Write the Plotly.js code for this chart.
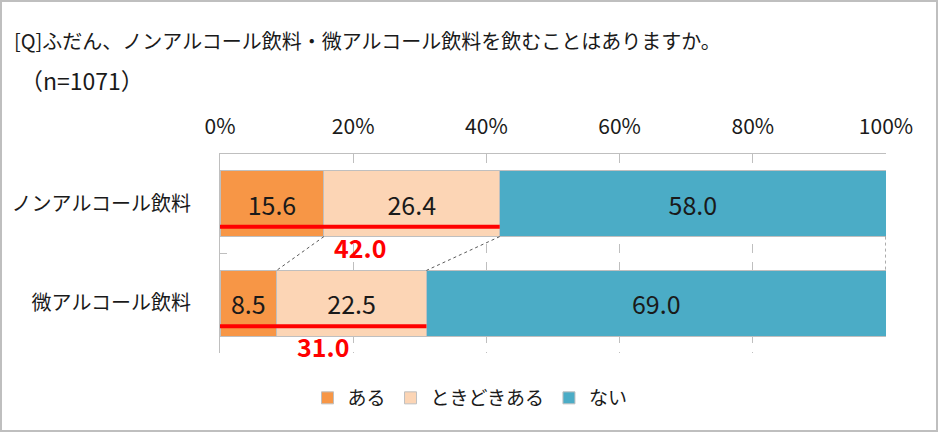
<!DOCTYPE html>
<html>
<head>
<meta charset="utf-8">
<script src="https://cdn.plot.ly/plotly-3.0.1.min.js"></script>
<style>
html,body{margin:0;padding:0;background:#fff;}
#wrap{position:relative;width:940px;height:433px;}
#chart{width:940px;height:433px;}
#frame{position:absolute;left:0;top:0;width:934px;height:428px;border:2px solid #bfbfbf;pointer-events:none;}
</style>
</head>
<body>
<div id="wrap"><div id="chart"></div><div id="frame"></div></div>
<script>
const categories = ['ノンアルコール飲料', '微アルコール飲料'];
const seriesNames = ['ある', 'ときどきある', 'ない'];
const aru = [15.6, 8.5];
const tokidoki = [26.4, 22.5];
const nai = [58.0, 69.0];
const totals = [42.0, 31.0];
const tickVals = [0, 20, 40, 60, 80, 100];
const tickText = ['0%', '20%', '40%', '60%', '80%', '100%'];
const colors = ['#F79646', '#FCD5B5', '#4BACC6'];

const FONT = '"Noto Sans CJK JP", "Noto Sans", sans-serif';
const seriesVals = [aru, tokidoki, nai];
const BARW = 0.66;

const traces = seriesVals.map((vals, k) => ({
  type: 'bar',
  orientation: 'h',
  name: seriesNames[k],
  y: categories,
  x: vals,
  width: BARW,
  marker: {color: colors[k], line: {color: '#bfbfbf', width: 1}},
  text: vals.map(v => v.toFixed(1)),
  textposition: 'inside',
  insidetextanchor: 'middle',
  textangle: 0,
  constraintext: 'none',
  textfont: {family: FONT, size: 25, color: '#1a1a1a'},
  hoverinfo: 'skip'
}));

// cumulative boundaries for connectors
const cum = categories.map((c, i) => [aru[i], aru[i] + tokidoki[i], aru[i] + tokidoki[i] + nai[i]]);
const shapes = [];
for (let j = 0; j < 3; j++) {
  shapes.push({
    type: 'line', xref: 'x', yref: 'y',
    x0: cum[0][j], y0: 0 + BARW / 2,
    x1: cum[1][j], y1: 1 - BARW / 2,
    line: {color: '#595959', width: 1, dash: 'dot'}
  });
}
categories.forEach((c, i) => {
  shapes.push({
    type: 'line', xref: 'x', yref: 'y',
    x0: 0, x1: totals[i], y0: i + 0.23, y1: i + 0.23,
    line: {color: '#ff0000', width: 4}
  });
});

const annotations = categories.map((c, i) => ({
  xref: 'x', yref: 'y', x: totals[i] / 2, y: i + 0.43,
  text: '<b>' + totals[i].toFixed(1) + '</b>',
  showarrow: false, xanchor: 'center', yanchor: 'middle',
  font: {family: FONT, size: 25, color: '#ff0000'}
}));
annotations.push({
  xref: 'paper', yref: 'paper', x: (18 - 220) / 666, y: (353 - 80) / 199,
  xanchor: 'left', yanchor: 'middle', showarrow: false,
  text: '（n=1071）',
  font: {family: FONT, size: 23, color: '#1a1a1a'}
});

const layout = {
  width: 940, height: 433,
  margin: {l: 220, r: 54, t: 154, b: 80},
  paper_bgcolor: '#ffffff', plot_bgcolor: '#ffffff',
  barmode: 'stack',
  font: {family: FONT, color: '#1a1a1a'},
  title: {
    text: '[Q]ふだん、ノンアルコール飲料・微アルコール飲料を飲むことはありますか。',
    xref: 'container', yref: 'container', x: 14 / 940, xanchor: 'left',
    y: 1 - 42 / 433, yanchor: 'middle',
    font: {family: FONT, size: 20, color: '#1a1a1a'}
  },
  xaxis: {
    side: 'top', range: [0, 100], tickvals: tickVals, ticktext: tickText,
    showgrid: true, gridcolor: '#bfbfbf', griddash: 'dash', gridwidth: 1,
    showline: true, linecolor: '#bfbfbf', linewidth: 1,
    zeroline: false, ticks: '', ticklabelstandoff: 11,
    tickfont: {family: FONT, size: 21, color: '#1a1a1a'},
    fixedrange: true
  },
  yaxis: {
    type: 'category', range: [1.5, -0.5],
    showgrid: false, zeroline: false,
    showline: true, linecolor: '#bfbfbf', linewidth: 1,
    ticks: 'inside', tickson: 'boundaries', ticklen: 7, tickcolor: '#bfbfbf',
    ticklabelstandoff: 24,
    tickfont: {family: FONT, size: 20, color: '#1a1a1a'},
    fixedrange: true
  },
  legend: {
    orientation: 'h', xref: 'container', yref: 'container',
    x: 0.5, xanchor: 'center', y: 1 - 398 / 433, yanchor: 'middle',
    font: {family: FONT, size: 19, color: '#1a1a1a'},
    itemwidth: 30, traceorder: 'normal'
  },
  showlegend: true,
  shapes: shapes,
  annotations: annotations
};

Plotly.newPlot('chart', traces, layout, {displayModeBar: false, staticPlot: true});
</script>
</body>
</html>
